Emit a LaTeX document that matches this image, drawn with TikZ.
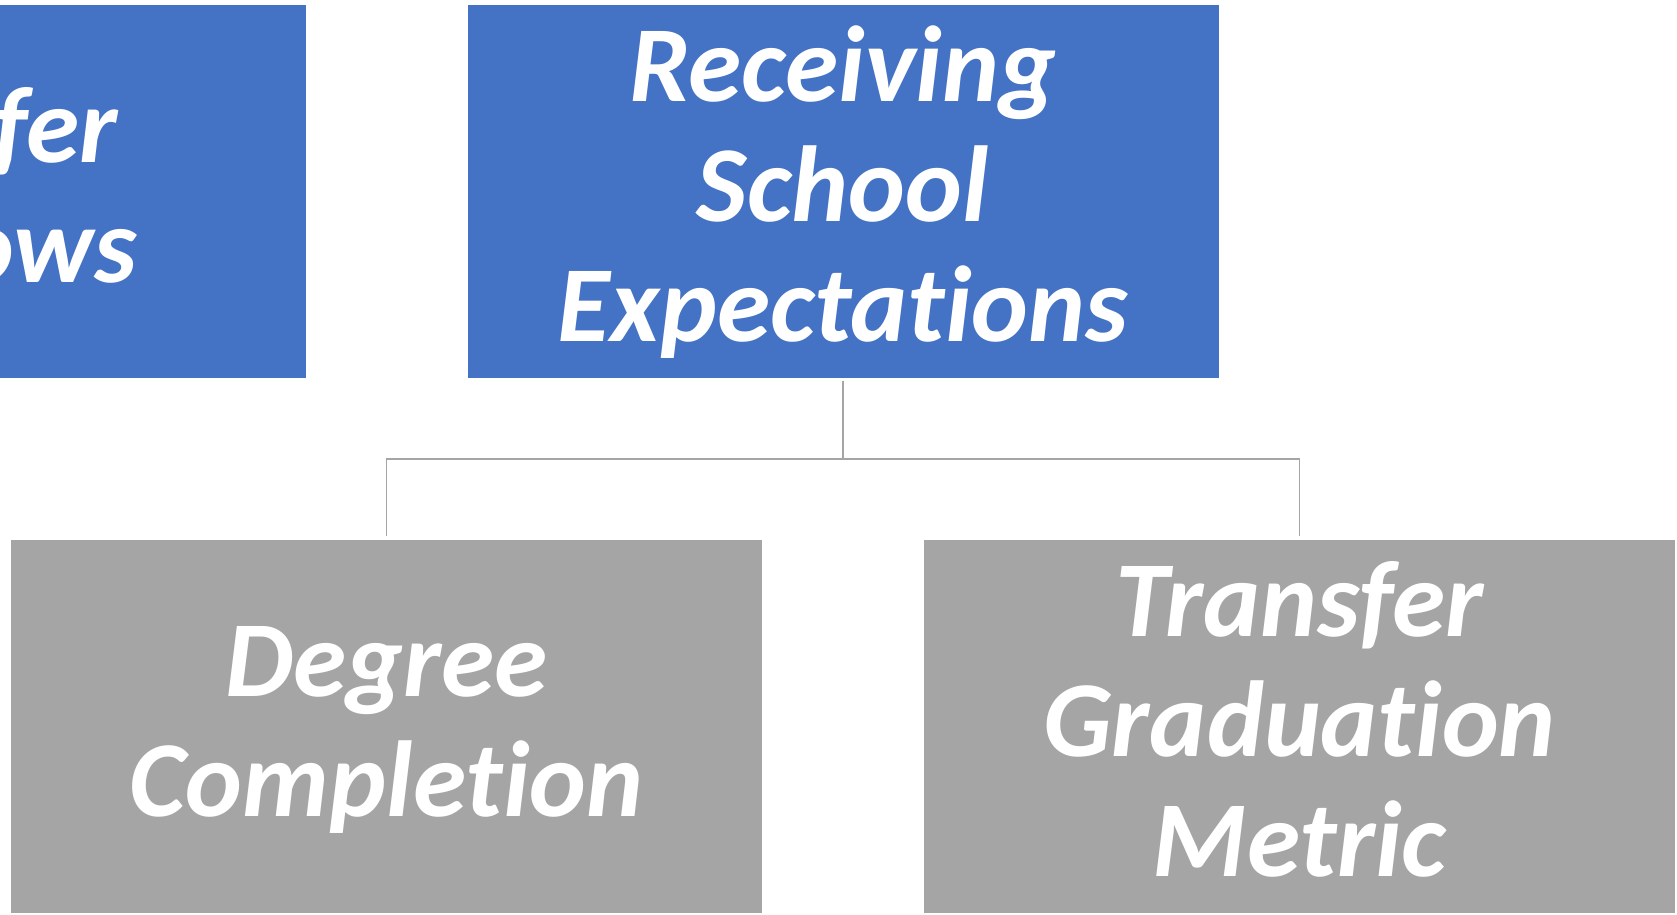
\documentclass[tikz,border=0pt]{standalone}
\usepackage{fontspec}
\setmainfont{Carlito}[Ligatures=NoCommon]
\definecolor{sablue}{HTML}{4472C4}
\definecolor{sagray}{HTML}{A5A5A5}
\newcommand\lblfont{\fontsize{108}{120}\selectfont\bfseries\itshape}
\newcommand\bs{\rule[-30pt]{0pt}{120pt}}
\begin{document}
\begin{tikzpicture}[x=1pt,y=-1pt,
  box/.style={rectangle, minimum width=752pt, minimum height=374pt, inner sep=0pt,
    draw=white, line width=1pt, text=white, align=center, font=\lblfont},
  bluebox/.style={box, fill=sablue},
  graybox/.style={box, fill=sagray},
  linetext/.style={text=white, font=\lblfont, inner sep=0pt},
  conn/.style={draw=sagray, line width=1.8pt}]
\useasboundingbox (0,0) rectangle (1677,914);
\clip (0,0) rectangle (1677,914);
\fill[white] (0,0) rectangle (1677,914);
% top row
\node[bluebox] (tf) at (-70,191) {};
\node[linetext, anchor=base east] (tf1) at (118,162) {Transfer};
\node[linetext, anchor=base east] (tf2) at (137,282) {Flows};
\node[bluebox] (rse) at (843,191) {\bs Receiving\\\bs School\\\bs Expectations};
% bottom row
\node[graybox] (dc) at (386.5,726) {\bs Degree\\\bs Completion};
\node[graybox] (tgm) at (1299.5,726) {\bs Transfer\\\bs Graduation\\\bs Metric};
% connectors
\coordinate (j) at (843,459);
\draw[conn, shorten <=2pt, shorten >=3pt] (rse.south) -- (j) -| (dc.north);
\draw[conn, shorten <=2pt, shorten >=3pt] (rse.south) -- (j) -| (tgm.north);
\end{tikzpicture}
\end{document}
